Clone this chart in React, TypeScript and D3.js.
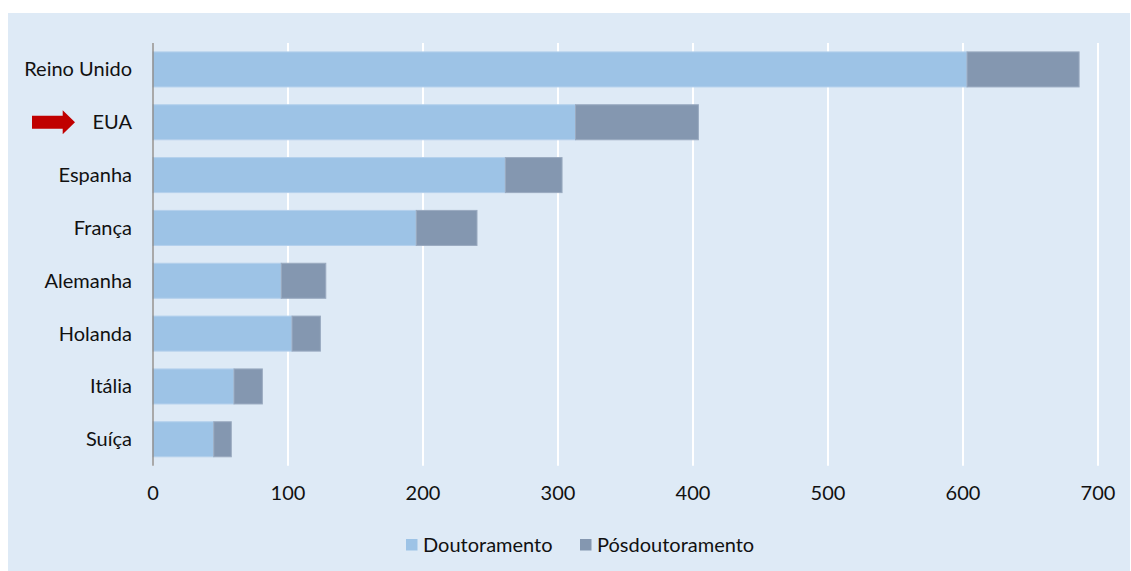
import React from "react";
import * as d3 from "d3";

const categories = ["Reino Unido", "EUA", "Espanha", "França", "Alemanha", "Holanda", "Itália", "Suíça"];
const doutoramento = [603, 313, 261, 195, 95, 103, 60, 45];
const posdoutoramento = [83, 91, 42, 45, 33, 21, 21, 13];
const xTicks = [0, 100, 200, 300, 400, 500, 600, 700];
const seriesNames = ["Doutoramento", "Pósdoutoramento"];
const highlighted = "EUA";

const COLORS = ["#9DC3E6", "#8497B0"];
const BG = "#DEEAF6";
const FONT = "Lato, 'Open Sans', sans-serif";

export default function App() {
  const W = 1131, H = 571;
  const left = 153, right = 1098, top = 43, bottom = 465.7;
  const x = d3.scaleLinear().domain([0, 700]).range([left, right]);
  const y = d3.scaleBand<string>().domain(categories).range([top, bottom]).paddingInner(0.337).paddingOuter(0.1685);
  const bw = y.bandwidth();
  const arrowY = (y(highlighted) ?? 0) + bw / 2;

  return (
    <svg width={W} height={H} style={{ position: "absolute", left: 0, top: 0 }}>
      <rect x={8} y={13} width={1122} height={558} fill={BG} />
      {xTicks.map((t) => (
        <line key={t} x1={x(t)} x2={x(t)} y1={top} y2={bottom} stroke="#ffffff" strokeWidth={2} />
      ))}
      {categories.map((c, i) => {
        const y0 = y(c) ?? 0;
        const d = doutoramento[i];
        const p = posdoutoramento[i];
        return (
          <g key={c}>
            <rect x={x(0)} y={y0} width={x(d) - x(0)} height={bw} fill={COLORS[0]} stroke="#B4D0EC" strokeWidth={1} />
            <rect x={x(d)} y={y0} width={x(d + p) - x(d)} height={bw} fill={COLORS[1]} stroke="#9AAAC0" strokeWidth={1} />
            <text x={left - 21} y={y0 + bw / 2} dy="0.35em" textAnchor="end" fontFamily={FONT} fontSize={20} fill="#111">{c}</text>
          </g>
        );
      })}
      <line x1={x(0)} x2={x(0)} y1={top} y2={bottom} stroke="#8C8C8C" strokeWidth={1.5} />
      {xTicks.map((t) => (
        <text key={"l" + t} x={x(t)} y={493} dy="0.35em" textAnchor="middle" fontFamily={FONT} fontSize={20} fill="#111">{t}</text>
      ))}
      <path
        d={`M32,${arrowY - 6.5} L62.7,${arrowY - 6.5} L62.7,${arrowY - 12} L75,${arrowY} L62.7,${arrowY + 12} L62.7,${arrowY + 6.5} L32,${arrowY + 6.5} Z`}
        fill="#C00000"
      />
      {seriesNames.map((s, i) => {
        const lx = i === 0 ? 406 : 580;
        return (
          <g key={s}>
            <rect x={lx} y={539} width={11.5} height={11.5} fill={COLORS[i]} />
            <text x={lx + 17} y={544.5} dy="0.35em" fontFamily={FONT} fontSize={20} fill="#111">{s}</text>
          </g>
        );
      })}
    </svg>
  );
}
